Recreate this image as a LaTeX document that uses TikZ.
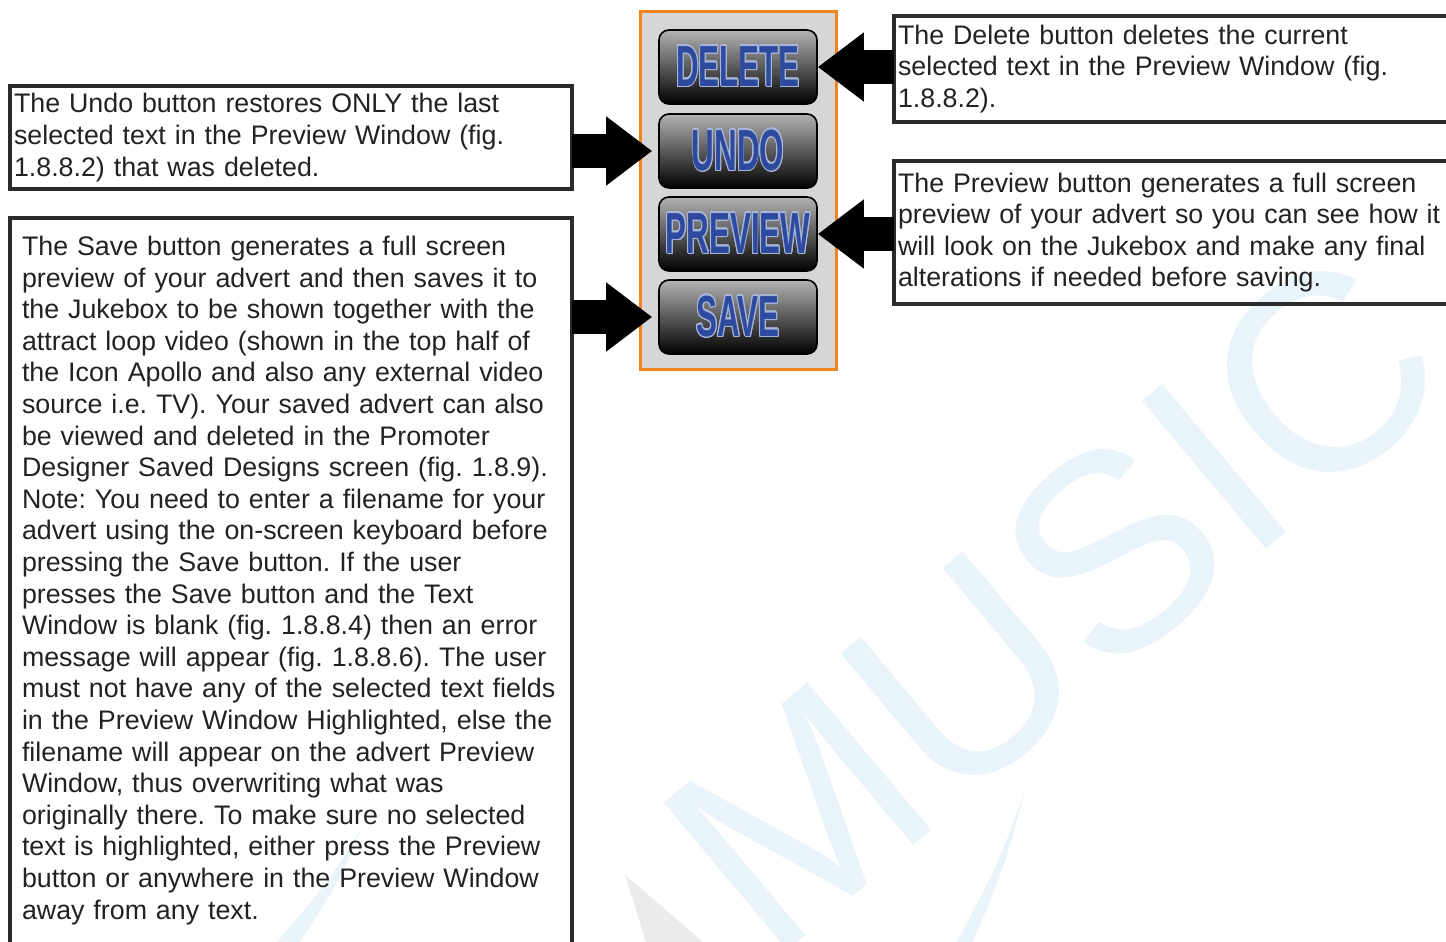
\documentclass[tikz,border=0pt]{standalone}
\usepackage{fontspec}
\setmainfont{Liberation Sans}
\usepackage[copies]{contour}
\usetikzlibrary{arrows.meta}
\frenchspacing

\definecolor{boxgrey}{HTML}{2B2B2B}
\definecolor{txtgrey}{HTML}{222222}
\definecolor{panelgrey}{HTML}{D6D6D6}
\definecolor{panelorange}{HTML}{F0841E}
\definecolor{btnblue}{HTML}{2E4A9E}
\definecolor{btnedge}{HTML}{A8B6D8}
\definecolor{markblue}{HTML}{E8F3FA}
\definecolor{markgrey}{HTML}{EBEBEB}

\contourlength{0.8pt}
\newcommand{\btnlabel}[1]{\scalebox{0.54}[1]{\contour{btnedge}{#1}}}

\tikzset{textbox/.style={draw=boxgrey, line width=2pt, text=txtgrey, align=left, anchor=north west,
outer sep=0pt, font=\fontsize{13.4}{15.8}\selectfont},
%buttons of the panel
btn/.style={draw=black, line width=0.8pt, rounded corners=5pt, minimum width=79pt, minimum height=37pt,
inner sep=0pt, top color=black!30, middle color=black!95, bottom color=black, text=btnblue,
font=\fontsize{29}{29}\selectfont\bfseries},
panel/.style={draw=panelorange, line width=1.5pt, fill=panelgrey, minimum width=98pt, minimum height=179pt},
bigarrow/.style={line width=17pt, -{Triangle[length=23pt,width=33pt]}},
watermark/.style={text=markblue, font=\fontsize{140}{140}\selectfont, inner sep=0pt}}

\begin{document}
\begin{tikzpicture}[x=0.5pt,y=-0.5pt]
\useasboundingbox (0,0) rectangle (1446,942);
\clip (0,0) rectangle (1446,942);

% watermark behind everything
\node[watermark, rotate=40, anchor=base west] (musicmark) at (770,966) {MUSIC};
\fill[markblue] (362,827) .. controls (330,880) .. (277,942) -- (300,942) .. controls (340,880) .. (362,827) -- cycle;
\fill[markblue] (1025,790) .. controls (1000,860) .. (957,942) -- (973,942) .. controls (1005,865) .. (1025,790) -- cycle;
\fill[markgrey] (625,875) -- (703,942) -- (646,942) -- cycle;

% button panel
\node[panel] (panel) at (738,190) {};
\node[btn] (delbtn) at (738,67) {\btnlabel{DELETE}};
\node[btn] (undobtn) at (738,151) {\btnlabel{UNDO}};
\node[btn] (prevbtn) at (738,234) {\btnlabel{PREVIEW}};
\node[btn] (savebtn) at (738,317) {\btnlabel{SAVE}};

% text boxes
\node[textbox, text width=277pt, inner xsep=2pt, minimum height=51.5pt] (undobox) at (10,86)
{The Undo button restores ONLY the last\\
selected text in the Preview Window (fig.\\
1.8.8.2) that was deleted.};

\node[textbox, text width=269pt, inner xsep=6pt, inner ysep=9pt] (savebox) at (10,218)
{The Save button generates a full screen\\
preview of your advert and then saves it to\\
the Jukebox to be shown together with the\\
attract loop video (shown in the top half of\\
the Icon Apollo and also any external video\\
source i.e. TV). Your saved advert can also\\
be viewed and deleted in the Promoter\\
Designer Saved Designs screen (fig. 1.8.9).\\
Note: You need to enter a filename for your\\
advert using the on-screen keyboard before\\
pressing the Save button. If the user\\
presses the Save button and the Text\\
Window is blank (fig. 1.8.8.4) then an error\\
message will appear (fig. 1.8.8.6). The user\\
must not have any of the selected text fields\\
in the Preview Window Highlighted, else the\\
filename will appear on the advert Preview\\
Window, thus overwriting what was\\
originally there. To make sure no selected\\
text is highlighted, either press the Preview\\
button or anywhere in the Preview Window\\
away from any text.\\ ~\\ ~};

\node[textbox, text width=279pt, inner xsep=2pt, minimum height=53pt] (delbox) at (894,16)
{The Delete button deletes the current\\
selected text in the Preview Window (fig.\\
1.8.8.2).};

\node[textbox, text width=279pt, inner xsep=2pt, minimum height=71.5pt] (prevbox) at (894,161)
{The Preview button generates a full screen\\
preview of your advert so you can see how it\\
will look on the Jukebox and make any final\\
alterations if needed before saving.};

% arrows
\draw[bigarrow] (undobox.east |- undobtn.west) -- ([xshift=-3pt]undobtn.west);
\draw[bigarrow] (savebox.east |- savebtn.west) -- ([xshift=-3pt]savebtn.west);
\draw[bigarrow] (delbox.west |- delbtn.east) -- (delbtn.east);
\draw[bigarrow] (prevbox.west |- prevbtn.east) -- (prevbtn.east);
\end{tikzpicture}
\end{document}
